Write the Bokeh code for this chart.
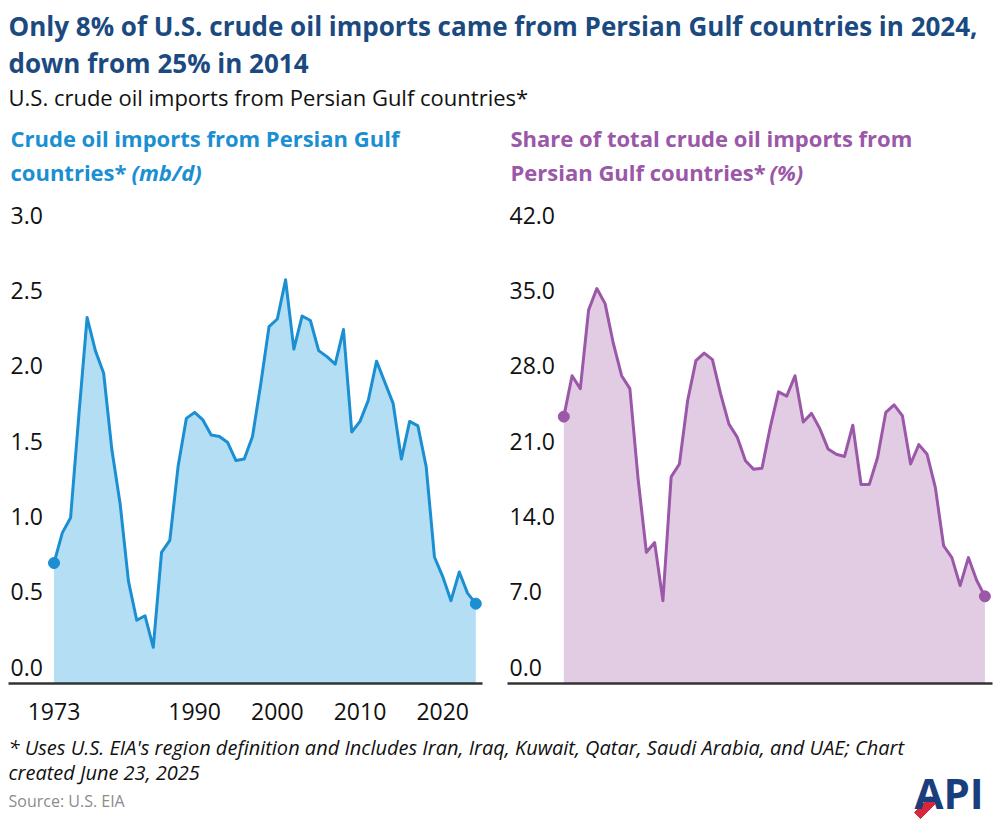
import numpy as np
from bokeh.plotting import figure
from bokeh.models import Range1d, FixedTicker, LabelSet, ColumnDataSource, Label
from bokeh.layouts import column, row
from bokeh.embed import file_html
from bokeh.resources import INLINE
from bokeh.core.properties import value

# ---------------- data ----------------
years = list(range(1973, 2025))
imports_mbd = [0.80, 1.00, 1.10, 1.78, 2.43, 2.21, 2.06, 1.55, 1.19, 0.68,
               0.42, 0.45, 0.24, 0.87, 0.95, 1.44, 1.76, 1.80, 1.75, 1.65,
               1.64, 1.60, 1.48, 1.49, 1.64, 1.99, 2.37, 2.42, 2.68, 2.22,
               2.44, 2.41, 2.21, 2.17, 2.12, 2.35, 1.67, 1.74, 1.88, 2.14,
               2.00, 1.86, 1.49, 1.74, 1.71, 1.44, 0.84, 0.71, 0.55, 0.74,
               0.60, 0.53]
share_pct = [24.8, 28.6, 27.4, 34.7, 36.7, 35.3, 31.6, 28.6, 27.4, 19.0,
             12.2, 13.1, 7.7, 19.2, 20.4, 26.3, 30.0, 30.7, 30.1, 26.9,
             24.1, 22.9, 20.7, 19.9, 20.0, 23.8, 27.1, 26.7, 28.6, 24.3,
             25.1, 23.7, 21.8, 21.3, 21.1, 24.0, 18.5, 18.5, 21.0, 25.2,
             25.9, 24.9, 20.4, 22.2, 21.3, 18.2, 12.8, 11.7, 9.1, 11.7,
             9.6, 8.1]
left_yticks = [0.0, 0.5, 1.0, 1.5, 2.0, 2.5, 3.0]
left_ytick_labels = ["0.0", "0.5", "1.0", "1.5", "2.0", "2.5", "3.0"]
right_yticks = [0.0, 7.0, 14.0, 21.0, 28.0, 35.0, 42.0]
right_ytick_labels = ["0.0", "7.0", "14.0", "21.0", "28.0", "35.0", "42.0"]
left_xticks = [1973, 1990, 2000, 2010, 2020]

title1 = "Only 8% of U.S. crude oil imports came from Persian Gulf countries in 2024,"
title2 = "down from 25% in 2014"
subtitle = "U.S. crude oil imports from Persian Gulf countries*"
note1 = "* Uses U.S. EIA's region definition and Includes Iran, Iraq, Kuwait, Qatar, Saudi Arabia, and UAE;  Chart"
note2 = "created June 23, 2025"
source = "Source: U.S. EIA"

# ---------------- styles ----------------
SANS = "Open Sans"
NAVY = "#1B4A80"
BLUE_LINE = "#1B8FD2"
BLUE_FILL = "#B3DEF3"
PURPLE_LINE = "#9B57A8"
PURPLE_FILL = "#E2CCE4"
AXIS = "#333333"


def blank(w, h):
    p = figure(width=w, height=h, x_range=Range1d(0, w), y_range=Range1d(0, h),
               x_axis_type=None, y_axis_type=None, output_backend="svg",
               toolbar_location=None, min_border=0)
    p.grid.visible = False
    p.outline_line_color = None
    return p


# ---------------- header ----------------
hdr = blank(1000, 198)
hdr.add_layout(Label(x=8, y=173, text=title1, text_font=SANS, text_font_size="26px",
                     text_font_style="bold", text_color=NAVY, text_baseline="middle"))
hdr.add_layout(Label(x=8, y=136, text=title2, text_font=SANS, text_font_size="26px",
                     text_font_style="bold", text_color=NAVY, text_baseline="middle"))
hdr.add_layout(Label(x=8, y=102, text=subtitle, text_font=SANS, text_font_size="22px",
                     text_color="#111111", text_baseline="middle"))

for (xx, l1, l2, unit, col, off) in [
        (10, "Crude oil imports from Persian Gulf", "countries*", "(mb/d)", BLUE_LINE, 121),
        (510, "Share of total crude oil imports from", "Persian Gulf countries*", "(%)", PURPLE_LINE, 259)]:
    hdr.add_layout(Label(x=xx, y=61, text=l1, text_font=SANS, text_font_size="22px",
                         text_font_style="bold", text_color=col, text_baseline="middle"))
    hdr.add_layout(Label(x=xx, y=27, text=l2, text_font=SANS, text_font_size="22px",
                         text_font_style="bold", text_color=col, text_baseline="middle"))
    hdr.add_layout(Label(x=xx + off, y=27, text=unit, text_font=SANS, text_font_size="22px",
                         text_font_style="bold italic", text_color=col, text_baseline="middle"))


# ---------------- panels ----------------
def panel(vals, yticks, ylabels, xr, ymax, line_col, fill_col, xticks, mbl, mbr, fw):
    p = figure(frame_width=fw, frame_height=485, x_range=Range1d(*xr),
               y_range=Range1d(0, ymax), y_axis_type=None, output_backend="svg",
               toolbar_location=None, min_border_left=mbl, min_border_right=mbr,
               min_border_top=0, min_border_bottom=50)
    p.grid.visible = False
    p.outline_line_color = None
    p.varea(x=years, y1=0, y2=vals, fill_color=fill_col, fill_alpha=1.0)
    p.line(x=years, y=vals, line_color=line_col, line_width=3, line_join="round")
    p.scatter(x=[years[0], years[-1]], y=[vals[0], vals[-1]], size=11,
              fill_color=line_col, line_color=line_col)
    xa = p.xaxis[0]
    xa.ticker = FixedTicker(ticks=xticks)
    xa.axis_line_color = AXIS
    xa.axis_line_width = 2.5
    xa.major_tick_line_color = None
    xa.minor_tick_line_color = None
    xa.major_label_text_font = SANS
    xa.major_label_text_font_size = "23px"
    xa.major_label_text_color = "#111111"
    xa.major_label_standoff = 13
    src = ColumnDataSource(dict(y=yticks, t=ylabels))
    p.add_layout(LabelSet(x=xr[0], y="y", text="t", source=src, x_offset=2, y_offset=8,
                          text_font=value(SANS), text_font_size="23px",
                          text_color="#111111", text_baseline="alphabetic"))
    return p


left = panel(imports_mbd, left_yticks, left_ytick_labels, (1967.495, 2024.81), 3.22,
             BLUE_LINE, BLUE_FILL, left_xticks, 8, 18, 474)
right = panel(share_pct, right_yticks, right_ytick_labels, (1966.18, 2024.92), 45.07,
              PURPLE_LINE, PURPLE_FILL, [], 7, 8, 485)

# ---------------- footer ----------------
ftr = blank(1000, 90)
ftr.add_layout(Label(x=8, y=76, text=note1, text_font=SANS, text_font_size="20px",
                     text_font_style="italic", text_color="#111111", text_baseline="middle"))
ftr.add_layout(Label(x=8, y=51, text=note2, text_font=SANS, text_font_size="20px",
                     text_font_style="italic", text_color="#111111", text_baseline="middle"))
ftr.add_layout(Label(x=8, y=23, text=source, text_font=SANS, text_font_size="16px",
                     text_color="#8C8C8C", text_baseline="middle"))
ftr.add_layout(Label(x=914, y=31, text="API", text_font=SANS, text_font_size="42px",
                     text_font_style="bold", text_color="#1A3D7C", text_baseline="middle"))
ftr.patch(x=[914, 930, 936, 920], y=[11, 27, 21, 5], color="#D7263D")

layout = column(hdr, row(left, right), ftr)
open("out.html", "w").write(file_html(layout, INLINE))
